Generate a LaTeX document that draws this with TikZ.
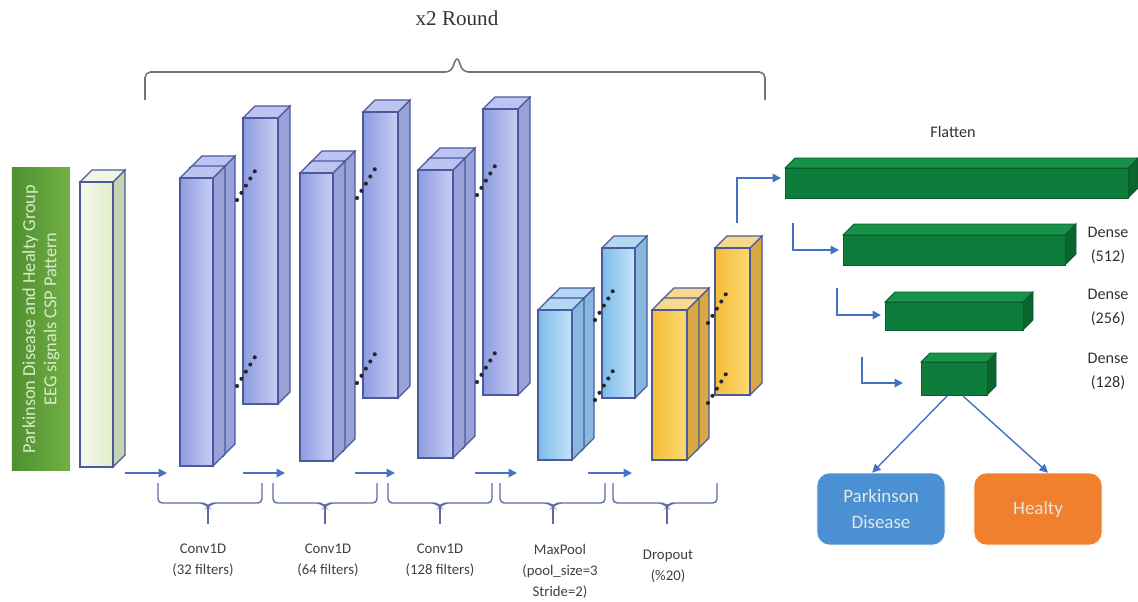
\documentclass[tikz,border=0pt]{standalone}
\usepackage{fontspec}
\setmainfont{Carlito}
\newfontfamily\serifround{Liberation Serif}
\usetikzlibrary{arrows.meta}

\definecolor{convL}{HTML}{8E9CE0}
\definecolor{convR}{HTML}{C8CEF5}
\definecolor{convS}{HTML}{98A2D8}
\definecolor{convT}{HTML}{BCC5F1}
\definecolor{convE}{HTML}{4B5A9C}
\definecolor{poolL}{HTML}{7DBBEA}
\definecolor{poolR}{HTML}{C4E3F8}
\definecolor{poolS}{HTML}{88B8DE}
\definecolor{poolT}{HTML}{B3D8F4}
\definecolor{dropL}{HTML}{F5BC38}
\definecolor{dropR}{HTML}{FCDA72}
\definecolor{dropS}{HTML}{D8A845}
\definecolor{dropT}{HTML}{F8D98C}
\definecolor{inL}{HTML}{F6FAEE}
\definecolor{inR}{HTML}{E2ECC8}
\definecolor{inS}{HTML}{C8D3B4}
\definecolor{inT}{HTML}{F1F5E4}
\definecolor{denseF}{HTML}{0E7C3A}
\definecolor{denseS}{HTML}{0A6530}
\definecolor{denseT}{HTML}{169249}
\definecolor{denseE}{HTML}{0A5C2C}
\definecolor{greenL}{HTML}{4F902F}
\definecolor{greenR}{HTML}{72B046}
\definecolor{greenTxt}{HTML}{D8EBC8}
\definecolor{flowblue}{HTML}{4472C4}
\definecolor{bracecol}{HTML}{5B6CA6}
\definecolor{pdblue}{HTML}{4A90D2}
\definecolor{healorange}{HTML}{F07F2E}

% cuboid: x, y (top left of front face), width, height, depth, style prefix
\newcommand{\cuboid}[6]{%
  \filldraw[#6 side] (#1+#3,#2) -- ++(#5,-#5) -- ++(0,#4) -- ++(-#5,#5) -- cycle;
  \filldraw[#6 top] (#1,#2) -- ++(#5,-#5) -- ++(#3,0) -- ++(-#5,#5) -- cycle;
  \filldraw[#6 front] (#1,#2) rectangle ++(#3,#4);
}

\begin{document}
\begin{tikzpicture}[x=0.025cm, y=-0.025cm,
    conv front/.style={draw=convE, line width=0.8pt, left color=convL, right color=convR},
    conv side/.style={draw=convE, line width=0.8pt, fill=convS},
    conv top/.style={draw=convE, line width=0.8pt, fill=convT},
    pool front/.style={draw=convE, line width=0.8pt, left color=poolL, right color=poolR},
    pool side/.style={draw=convE, line width=0.8pt, fill=poolS},
    pool top/.style={draw=convE, line width=0.8pt, fill=poolT},
    drop front/.style={draw=convE, line width=0.8pt, left color=dropL, right color=dropR},
    drop side/.style={draw=convE, line width=0.8pt, fill=dropS},
    drop top/.style={draw=convE, line width=0.8pt, fill=dropT},
    input front/.style={draw=convE, line width=0.8pt, left color=inL, right color=inR},
    input side/.style={draw=convE, line width=0.8pt, fill=inS},
    input top/.style={draw=convE, line width=0.8pt, fill=inT},
    dense front/.style={draw=denseE, line width=0.6pt, fill=denseF},
    dense side/.style={draw=denseE, line width=0.6pt, fill=denseS},
    dense top/.style={draw=denseE, line width=0.6pt, fill=denseT},
    dots/.style={line width=2.9pt, line cap=round, dash pattern=on 0pt off 6pt, black!85},
    flow/.style={draw=flowblue, line width=1.3pt, -{Triangle[length=6pt,width=6pt]}},
    bracket/.style={draw=bracecol, line width=1pt, rounded corners=3pt},
    lbl/.style={align=center, text=black!75, font=\fontsize{10.5}{15}\selectfont},
    dlbl/.style={align=center, text=black!80, font=\fontsize{11.5}{17}\selectfont},
    outbox/.style={rounded corners=9pt, draw=white, minimum width=3.2cm, minimum height=1.8cm,
        align=center, text=white!90!black, font=\fontsize{13.5}{18}\selectfont},
]

    \useasboundingbox (0,0) rectangle (1138,601);

    % Input signal
    \node[rotate=90, minimum width=7.55cm, minimum height=1.45cm, left color=greenL, right color=greenR,
        align=center, text=greenTxt, font=\fontsize{13}{15}\selectfont] (signal) at (41,319)
        {Parkinson Disease and Healty Group\\EEG signals CSP Pattern};
    \cuboid{80}{182}{33}{285}{12}{input}

    % Conv1D blocks
    \cuboid{190}{168}{33}{288}{12}{conv}
    \cuboid{180}{178}{33}{288}{12}{conv}
    \cuboid{243}{118}{35}{286}{12}{conv}

    \cuboid{310}{163}{33}{288}{12}{conv}
    \cuboid{300}{173}{33}{288}{12}{conv}
    \cuboid{363}{112}{35}{286}{12}{conv}

    \cuboid{428}{160}{35}{288}{12}{conv}
    \cuboid{418}{170}{35}{288}{12}{conv}
    \cuboid{483}{109}{35}{286}{12}{conv}

    % MaxPool
    \cuboid{548}{300}{34}{150}{12}{pool}
    \cuboid{538}{310}{34}{150}{12}{pool}
    \cuboid{602}{248}{33}{150}{12}{pool}

    % Dropout
    \cuboid{662}{300}{35}{150}{12}{drop}
    \cuboid{652}{310}{35}{150}{12}{drop}
    \cuboid{715}{248}{35}{147}{12}{drop}

    % Dots between the filters
    \foreach \x/\ya/\yb in {237/200/386, 357/198/383, 477/195/382, 595/320/400, 708/323/403}{
        \draw[dots] (\x,\ya) -- ++(21,-34);
        \draw[dots] (\x,\yb) -- ++(21,-34);
    }

    % Arrows under the blocks
    \foreach \xa/\xb in {125/167, 243/285, 355/395, 475/517, 588/632}
        \draw[flow] (\xa,473) -- (\xb,473);

    % Brackets under the blocks
    \foreach \a/\t/\b in {158/208/262, 273/325/377, 388/440/492, 500/553/605, 613/667/717}{
        \draw[bracket] (\a,483) -- (\a,503) -- (\t-4,503) -- (\t,507) -- (\t+4,503) -- (\b,503) -- (\b,483);
        \draw[bracecol, line width=1pt] (\t,505) -- (\t,524);
    }

    \node[lbl] (conv1) at (203,560) {Conv1D\\(32 filters)};
    \node[lbl] (conv2) at (328,560) {Conv1D\\(64 filters)};
    \node[lbl] (conv3) at (440,560) {Conv1D\\(128 filters)};
    \node[lbl] (pool) at (560,571) {MaxPool\\(pool\_size=3\\Stride=2)};
    \node[lbl] (drop) at (668,566) {Dropout\\(\%20)};

    % Top bracket
    \draw[draw=black!55, line width=1.1pt, rounded corners=4pt]
        (145,100) -- (145,72) -- (451,72) -- (457,56) -- (463,72) -- (765,72) -- (765,100);
    \node[font=\serifround\fontsize{15}{18}\selectfont, text=black!80] (round) at (457,18) {x2 Round};

    % Flatten and dense layers
    \node[dlbl] (flatlbl) at (953,132) {Flatten};
    \cuboid{785}{168}{343}{30}{10}{dense}
    \cuboid{843}{235}{222}{30}{11}{dense}
    \cuboid{885}{302}{138}{28}{10}{dense}
    \cuboid{921}{362}{66}{33}{9}{dense}

    \node[dlbl] (d512) at (1108,245) {Dense\\(512)};
    \node[dlbl] (d256) at (1108,307) {Dense\\(256)};
    \node[dlbl] (d128) at (1108,371) {Dense\\(128)};

    \coordinate (dropout) at (737,223);
    \coordinate (flatten) at (781,178);
    \coordinate (flatout) at (793,223);
    \coordinate (in512) at (839,250);
    \coordinate (out512) at (837,288);
    \coordinate (in256) at (881,315);
    \coordinate (out256) at (862,357);
    \coordinate (in128) at (903,383);
    \coordinate (out128a) at (947,396);
    \coordinate (out128b) at (963,396);

    \draw[flow] (dropout) |- (flatten);
    \draw[flow] (flatout) |- (in512);
    \draw[flow] (out512) |- (in256);
    \draw[flow] (out256) |- (in128);

    % Output classes
    \node[outbox, fill=pdblue] (pd) at (881,509) {Parkinson\\Disease};
    \node[outbox, fill=healorange] (healty) at (1038,509) {Healty};

    \draw[flow, line width=1pt] (out128a) -- ([xshift=-0.22cm]pd.north);
    \draw[flow, line width=1pt] (out128b) -- ([xshift=0.25cm]healty.north);

\end{tikzpicture}
\end{document}
